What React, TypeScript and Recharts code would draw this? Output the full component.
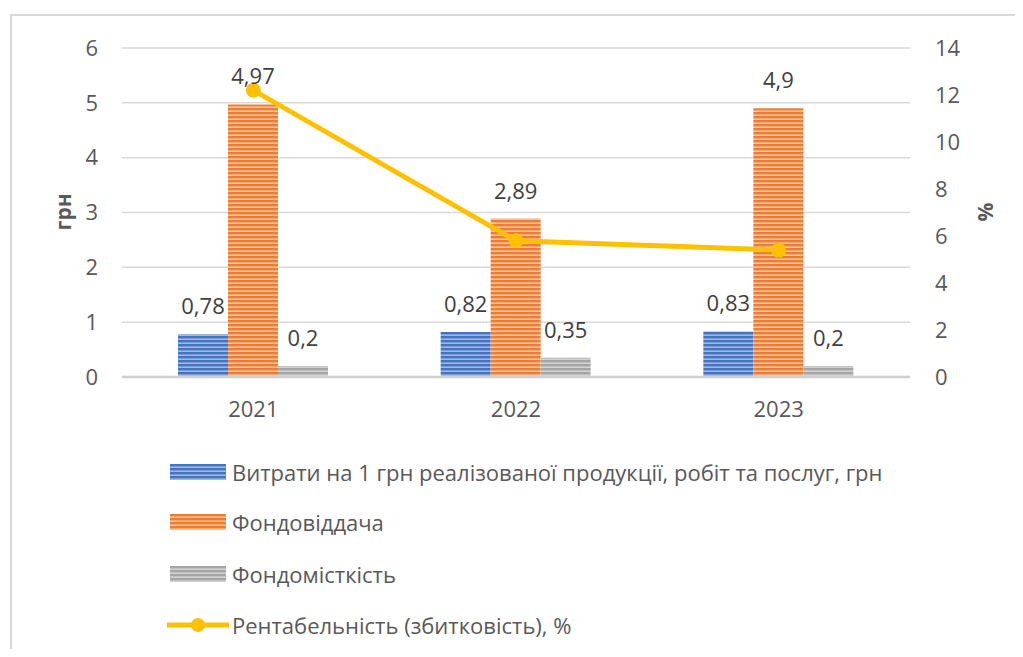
import React from 'react';
import {
  ComposedChart, Bar, Line, XAxis, YAxis, CartesianGrid, LabelList
} from 'recharts';

const years = ['2021', '2022', '2023'];
const costPerUah = [0.78, 0.82, 0.83];
const assetReturn = [4.97, 2.89, 4.9];
const assetIntensity = [0.2, 0.35, 0.2];
const profitability = [12.2, 5.8, 5.4];

const leftTicks = [0, 1, 2, 3, 4, 5, 6];
const rightTicks = [0, 2, 4, 6, 8, 10, 12, 14];

const seriesNames = [
  'Витрати на 1 грн реалізованої продукції, робіт та послуг, грн',
  'Фондовіддача',
  'Фондомісткість',
  'Рентабельність (збитковість), %',
];

const data = years.map((year, i) => ({
  year,
  cost: costPerUah[i],
  ret: assetReturn[i],
  intensity: assetIntensity[i],
  profit: profitability[i],
}));

const FONT = '"Open Sans", Roboto, sans-serif';
const TEXT = '#595959';
const FS = 22;

const stripes = [
  { id: 'stripe-blue', base: '#4472C4', light: '#B4C7E7' },
  { id: 'stripe-orange', base: '#ED7D31', light: '#FAD3B8' },
  { id: 'stripe-gray', base: '#A5A5A5', light: '#DEDEDE' },
];

const comma = (v: any) => String(v).replace('.', ',');

function Patterns() {
  return (
    <svg width={0} height={0} style={{ position: 'absolute' }}>
      <defs>
        {stripes.map((s) => (
          <pattern key={s.id} id={s.id} width={6} height={4} patternUnits="userSpaceOnUse">
            <rect width={6} height={4} fill={s.base} />
            <rect y={2.5} width={6} height={1.3} fill={s.light} />
          </pattern>
        ))}
      </defs>
    </svg>
  );
}

function LegendBox() {
  const rows = [456, 506, 558, 609];
  return (
    <>
      {seriesNames.map((name, i) => (
        <div
          key={name}
          style={{
            position: 'absolute', left: 155, top: rows[i] - 15, height: 30,
            display: 'flex', alignItems: 'center', whiteSpace: 'nowrap',
          }}
        >
          {i < 3 ? (
            <svg width={62} height={16} style={{ marginLeft: 3 }}>
              <rect x={0} y={0} width={56} height={16} fill={`url(#${stripes[i].id})`} />
            </svg>
          ) : (
            <svg width={65} height={16}>
              <line x1={0} y1={8} x2={62} y2={8} stroke="#FFC000" strokeWidth={5} />
              <circle cx={31} cy={8} r={7} fill="#FFC000" />
            </svg>
          )}
          <span style={{ fontSize: FS, color: TEXT, marginLeft: 0 }}>{name}</span>
        </div>
      ))}
    </>
  );
}

export default function App() {
  return (
    <div
      style={{
        position: 'relative', width: 1003, height: 633, marginLeft: 2, marginTop: 6,
        borderTop: '2px solid #d9d9d9', borderLeft: '2px solid #d9d9d9',
        fontFamily: FONT, background: '#fff',
      }}
    >
      <Patterns />
      <ComposedChart
        width={1003}
        height={633}
        data={data}
        margin={{ top: 32, right: 0, bottom: 232, left: 0 }}
        barGap={0}
        barSize={50}
        style={{ fontFamily: FONT }}
      >
        <CartesianGrid vertical={false} stroke="#d9d9d9" strokeWidth={1.5} yAxisId="left" />
        <XAxis
          dataKey="year"
          height={40}
          tickLine={false}
          axisLine={{ stroke: '#d0d0d0', strokeWidth: 2.5 }}
          tickMargin={18}
          tick={{ fill: TEXT, fontSize: FS }}
        />
        <YAxis
          yAxisId="left"
          width={110}
          domain={[0, 6]}
          ticks={leftTicks}
          axisLine={false}
          tickLine={false}
          tickMargin={18}
          tick={{ fill: TEXT, fontSize: FS }}
        />
        <YAxis
          yAxisId="right"
          orientation="right"
          width={105}
          domain={[0, 14]}
          ticks={rightTicks}
          axisLine={false}
          tickLine={false}
          tickMargin={19}
          tick={{ fill: TEXT, fontSize: FS, textAnchor: 'start' }}
        />
        <Bar yAxisId="left" dataKey="cost" fill="url(#stripe-blue)" isAnimationActive={false}>
          <LabelList dataKey="cost" position="top" offset={20} formatter={comma} fill="#404040" fontSize={FS} />
        </Bar>
        <Bar yAxisId="left" dataKey="ret" fill="url(#stripe-orange)" isAnimationActive={false}>
          <LabelList dataKey="ret" position="top" offset={20} formatter={comma} fill="#404040" fontSize={FS} />
        </Bar>
        <Bar yAxisId="left" dataKey="intensity" fill="url(#stripe-gray)" isAnimationActive={false}>
          <LabelList dataKey="intensity" position="top" offset={20} formatter={comma} fill="#404040" fontSize={FS} />
        </Bar>
        <Line
          yAxisId="right"
          dataKey="profit"
          stroke="#FFC000"
          strokeWidth={5}
          dot={{ r: 7.5, fill: '#FFC000', stroke: '#FFC000', strokeWidth: 0 }}
          activeDot={false}
          isAnimationActive={false}
        />
      </ComposedChart>
      <div
        style={{
          position: 'absolute', left: 51, top: 196, transform: 'translate(-50%, -50%) rotate(-90deg)',
          fontSize: 21, fontWeight: 'bold', color: TEXT,
        }}
      >
        грн
      </div>
      <div
        style={{
          position: 'absolute', left: 973, top: 196, transform: 'translate(-50%, -50%) rotate(-90deg)',
          fontSize: 21, fontWeight: 'bold', color: TEXT,
        }}
      >
        %
      </div>
      <LegendBox />
    </div>
  );
}
